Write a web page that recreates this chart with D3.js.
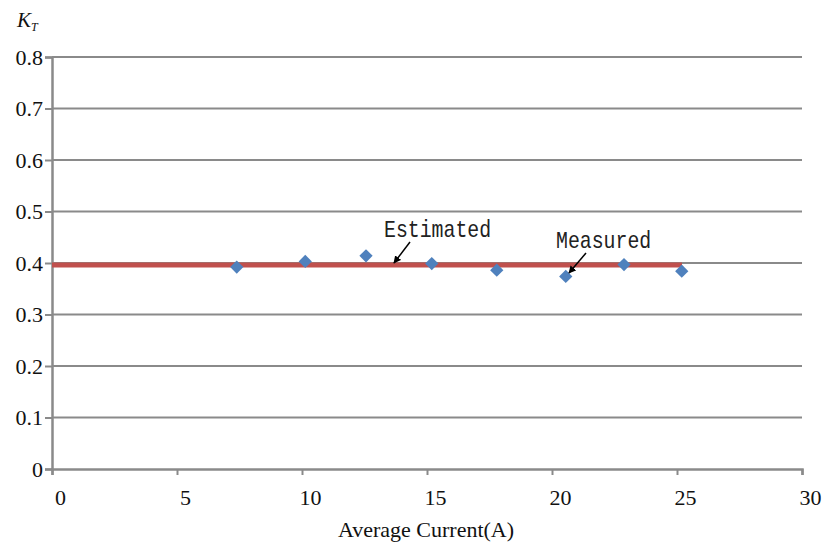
<!DOCTYPE html>
<html><head><meta charset="utf-8">
<script src="https://cdn.jsdelivr.net/npm/d3@7"></script>
<style>body{margin:0;background:#fff}svg{display:block}</style>
</head><body>
<svg id="c" width="825" height="548"></svg>
<script>
const measuredX = [7.39, 10.13, 12.56, 15.19, 17.79, 20.55, 22.88, 25.19];
const measuredY = [0.392, 0.403, 0.414, 0.399, 0.386, 0.374, 0.397, 0.384];
const estimatedX = [0, 25.2];
const estimatedY = [0.396, 0.396];
const xTicks = [0, 5, 10, 15, 20, 25, 30];
const yTicks = [0, 0.1, 0.2, 0.3, 0.4, 0.5, 0.6, 0.7, 0.8];
const yTickLabels = ["0", "0.1", "0.2", "0.3", "0.4", "0.5", "0.6", "0.7", "0.8"];
const xTitle = "Average Current(A)";
const annotations = [
  {text: "Estimated", tx: 384, ty: 237, from: [410, 242], to: [394, 263]},
  {text: "Measured", tx: 556, ty: 248, from: [586, 253], to: [569, 273]}
];

const svg = d3.select("#c");
const x = d3.scaleLinear().domain([0, 30]).range([52, 802]);
const y = d3.scaleLinear().domain([0, 0.8]).range([469, 57]);
const grey = "#8a8a8a";

// gridlines
svg.append("g").selectAll("line").data(yTicks.slice(1)).join("line")
  .attr("x1", x(0)).attr("x2", x(30))
  .attr("y1", d => y(d)).attr("y2", d => y(d))
  .attr("stroke", grey).attr("stroke-width", 2);

// y axis
const yAxis = svg.append("g").attr("transform", `translate(${x(0)},0)`)
  .call(d3.axisLeft(y).tickValues(yTicks).tickFormat((d, i) => yTickLabels[i]).tickSize(7).tickPadding(2));
yAxis.select(".domain").attr("stroke", grey).attr("stroke-width", 2.5);
yAxis.selectAll(".tick line").attr("stroke", grey).attr("stroke-width", 2);
yAxis.selectAll("text").attr("font-family", "Liberation Serif").attr("font-size", 22).attr("fill", "#111");

// x axis
const xAxis = svg.append("g").attr("transform", `translate(0,${y(0)})`)
  .call(d3.axisBottom(x).tickValues(xTicks).tickSize(6).tickPadding(14));
xAxis.select(".domain").attr("stroke", grey).attr("stroke-width", 2.5);
xAxis.selectAll(".tick line").attr("stroke", grey).attr("stroke-width", 2);
xAxis.selectAll("text").attr("font-family", "Liberation Serif").attr("font-size", 22).attr("fill", "#111")
  .attr("dx", 8);

// estimated line
svg.append("path")
  .datum(estimatedX.map((d, i) => [d, estimatedY[i]]))
  .attr("d", d3.line().x(d => x(d[0])).y(d => y(d[1])))
  .attr("stroke", "#c0504d").attr("stroke-width", 5).attr("fill", "none");

// measured diamonds
svg.append("g").selectAll("path").data(measuredX.map((d, i) => [d, measuredY[i]])).join("path")
  .attr("d", d3.symbol().type(d3.symbolDiamond2).size(112))
  .attr("transform", d => `translate(${x(d[0])},${y(d[1])})`)
  .attr("fill", "#4f81bd");

// arrow marker
svg.append("defs").append("marker").attr("id", "ah")
  .attr("viewBox", "0 0 10 10").attr("refX", 9).attr("refY", 5)
  .attr("markerWidth", 5).attr("markerHeight", 5).attr("orient", "auto")
  .append("path").attr("d", "M0,0L10,5L0,10z").attr("fill", "#000");

annotations.forEach(a => {
  svg.append("text").attr("x", a.tx).attr("y", a.ty)
    .attr("font-family", "Liberation Mono").attr("font-size", 20).attr("fill", "#222")
    .attr("textLength", a.text.length * 11.9).attr("lengthAdjust", "spacingAndGlyphs")
    .attr("transform", `translate(0,${a.ty}) scale(1,1.2) translate(0,${-a.ty})`)
    .text(a.text);
  svg.append("line").attr("x1", a.from[0]).attr("y1", a.from[1])
    .attr("x2", a.to[0]).attr("y2", a.to[1])
    .attr("stroke", "#000").attr("stroke-width", 1.5).attr("marker-end", "url(#ah)");
});

// axis title
svg.append("text").attr("x", 426).attr("y", 537).attr("text-anchor", "middle")
  .attr("font-family", "Liberation Serif").attr("font-size", 22).attr("fill", "#111")
  .text(xTitle);

// K_T label
const kt = svg.append("text").attr("x", 17).attr("y", 27)
  .attr("font-family", "Liberation Serif").attr("font-style", "italic").attr("font-size", 21).attr("fill", "#111");
kt.append("tspan").text("K");
kt.append("tspan").attr("font-size", 12).attr("dy", 4).text("T");
</script>
</body></html>
